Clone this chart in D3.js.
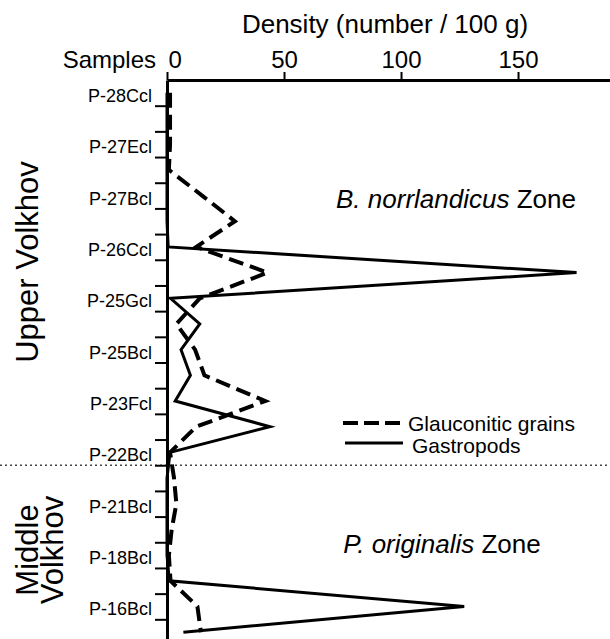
<!DOCTYPE html>
<html>
<head>
<meta charset="utf-8">
<script src="https://cdn.jsdelivr.net/npm/d3@7"></script>
<style>
  body { margin: 0; background: #fff; }
  text { font-family: "Liberation Sans", Arial, sans-serif; fill: #000; }
</style>
</head>
<body>
<svg id="chart" width="610" height="639"></svg>
<script>
// labels sit on every second sample level
const sampleLabels = ["P-28Ccl", "P-27Ecl", "P-27Bcl", "P-26Ccl", "P-25Gcl", "P-25Bcl",
                      "P-23Fcl", "P-22Bcl", "P-21Bcl", "P-18Bcl", "P-16Bcl"];
// density (number / 100 g) per level, top to bottom
const gastropods  = [0, 0, 0, 0, 0, 0, 0.5, 175, 1.5, 14, 6, 10, 3.5, 44, 1.3, 0, 0, 0, 0, 1, 127, 7];
const glauconitic = [1.3, 1.3, 1.3, 0.8, 15, 29, 12.5, 43, 14, 4, 12, 16, 42, 12.5, 1.3, 3, 4, 2, 0.8, 1.5, 13, 14.5];
const densityTicks = [0, 50, 100, 150];
const zoneBoundary = 15; // level boundary between Upper and Middle Volkhov

const svg = d3.select("#chart");
const nLevels = gastropods.length;

const x = d3.scaleLinear().domain([0, 189.3]).range([167, 610]);
const y = d3.scaleLinear().domain([0, nLevels]).range([80, 645]);

const line = d3.line()
    .x(d => x(d))
    .y((d, i) => y(i + 0.5));

// zone boundary (dotted)
svg.append("line")
    .attr("x1", 0).attr("x2", 610)
    .attr("y1", y(zoneBoundary)).attr("y2", y(zoneBoundary))
    .attr("stroke", "#444")
    .attr("stroke-width", 1.3)
    .attr("stroke-dasharray", "2,3");

// data lines
svg.append("path")
    .attr("fill", "none")
    .attr("stroke", "#000")
    .attr("stroke-width", 4)
    .attr("stroke-dasharray", "15,7")
    .attr("d", line(glauconitic));

svg.append("path")
    .attr("fill", "none")
    .attr("stroke", "#000")
    .attr("stroke-width", 3)
    .attr("d", line(gastropods));

// top axis
const xAxis = svg.append("g")
    .attr("transform", "translate(0," + y(0) + ")")
    .call(d3.axisTop(x).tickValues(densityTicks).tickSize(8).tickSizeOuter(0).tickPadding(4));
xAxis.select(".domain").attr("stroke-width", 3);
xAxis.selectAll(".tick line").attr("stroke-width", 2);
xAxis.selectAll(".tick text")
    .style("font-size", "24px")
    .attr("fill", "#000")
    .attr("text-anchor", d => d === 0 ? "start" : "middle")
    .attr("x", d => d === 0 ? 1 : 0);

// left axis (level boundaries)
const yAxis = svg.append("g")
    .attr("transform", "translate(" + x(0) + ",0)")
    .call(d3.axisLeft(y).tickValues(d3.range(1, nLevels)).tickSize(12).tickSizeOuter(0).tickFormat(""));
yAxis.select(".domain").attr("stroke-width", 3);
yAxis.selectAll(".tick line").attr("stroke-width", 2);

// sample labels
svg.append("g").selectAll("text")
    .data(sampleLabels)
    .join("text")
    .attr("x", 152)
    .attr("y", (d, i) => y(i * 2 + 0.5) + 9)
    .attr("text-anchor", "end")
    .style("font-size", "18px")
    .text(d => d);

// titles
svg.append("text")
    .attr("x", 385).attr("y", 33)
    .attr("text-anchor", "middle")
    .style("font-size", "26px")
    .text("Density (number / 100 g)");

svg.append("text")
    .attr("x", 156).attr("y", 68)
    .attr("text-anchor", "end")
    .style("font-size", "24px")
    .text("Samples");

svg.append("text")
    .attr("transform", "translate(38,262) rotate(-90)")
    .attr("text-anchor", "middle")
    .style("font-size", "31px")
    .text("Upper Volkhov");

const mid = svg.append("text")
    .attr("transform", "translate(38,550) rotate(-90)")
    .attr("text-anchor", "middle")
    .style("font-size", "31px");
mid.append("tspan").attr("x", 0).attr("y", 0).text("Middle");
mid.append("tspan").attr("x", 0).attr("y", 25).text("Volkhov");

// zone names
const zone1 = svg.append("text")
    .attr("x", 456).attr("y", 208)
    .attr("text-anchor", "middle")
    .style("font-size", "26px");
zone1.append("tspan").style("font-style", "italic").text("B. norrlandicus");
zone1.append("tspan").text(" Zone");

const zone2 = svg.append("text")
    .attr("x", 442).attr("y", 553)
    .attr("text-anchor", "middle")
    .style("font-size", "26px");
zone2.append("tspan").style("font-style", "italic").text("P. originalis");
zone2.append("tspan").text(" Zone");

// legend
const legend = svg.append("g");
legend.append("line")
    .attr("x1", 343).attr("x2", 402).attr("y1", 423).attr("y2", 423)
    .attr("stroke", "#000").attr("stroke-width", 4).attr("stroke-dasharray", "15,6");
legend.append("text")
    .attr("x", 408).attr("y", 431)
    .style("font-size", "21px")
    .text("Glauconitic grains");
legend.append("line")
    .attr("x1", 345).attr("x2", 403).attr("y1", 443).attr("y2", 443)
    .attr("stroke", "#000").attr("stroke-width", 3);
legend.append("text")
    .attr("x", 412).attr("y", 453)
    .style("font-size", "21px")
    .text("Gastropods");
</script>
</body>
</html>
